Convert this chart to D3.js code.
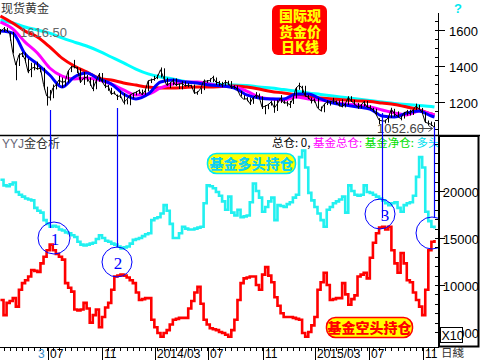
<!DOCTYPE html>
<html><head><meta charset="utf-8">
<script src="https://cdn.jsdelivr.net/npm/d3@7"></script>
<style>
html,body{margin:0;padding:0;background:#fff;}
svg{display:block;}
text{font-family:"Liberation Sans",Arial,"Noto Sans CJK SC",sans-serif;}
.cjk{font-family:"Noto Sans CJK SC",sans-serif;}
</style></head><body>
<svg id="c" width="480" height="360"></svg>
<script>
// ---------- DATA ----------
const startWeek = "2013-03-15";   // first weekly bar
const goldClose = [1592,1607,1598,1581,1476,1405,1462,1469,1435,1366,
1386,1393,1383,1388,1297,1234,1223,1277,1295,1322,
1310,1313,1372,1395,1396,1387,1308,1333,1338,1310,
1272,1315,1352,1314,1287,1288,1244,1251,1230,1235,
1197,1213,1237,1248,1254,1264,1240,1262,1318,1323,
1326,1339,1379,1334,1294,1303,1318,1293,1300,1302,
1290,1293,1292,1250,1252,1274,1316,1316,1320,1337,
1310,1307,1294,1310,1305,1280,1287,1268,1231,1216,
1218,1192,1222,1238,1231,1171,1177,1185,1201,1167,
1191,1222,1196,1195,1186,1216,1277,1293,1279,1234,
1227,1204,1213,1167,1152,1184,1199,1201,1207,1203,
1179,1175,1189,1225,1205,1190,1172,1179,1201,1173,
1168,1157,1132,1099,1095,1094,1113,1160,1134,1121,
1108,1138,1146,1137,1156,1177,1163,1142,1088,1081,
1076,1056];
const goldHigh = [1605,1616.5,1612,1586,1590,1425,1470,1477,1475,1440,
1418,1415,1424,1395,1390,1285,1267,1297,1299,1346,
1336,1323,1373,1400,1434,1395,1386,1367,1350,1335,
1323,1326,1361,1361,1322,1295,1279,1260,1242,1262,
1249,1215,1240,1250,1259,1270,1269,1268,1318,1330,
1345,1352,1392,1387,1335,1310,1330,1331,1302,1315,
1315,1305,1296,1297,1260,1277,1325,1322,1332,1346,
1336,1317,1312,1322,1318,1316,1293,1291,1262,1238,
1227,1225,1228,1255,1247,1231,1182,1190,1207,1208,
1210,1238,1209,1205,1206,1226,1283,1307,1290,1290,
1240,1225,1220,1221,1175,1191,1209,1207,1223,1209,
1208,1215,1193,1232,1232,1212,1195,1189,1206,1206,
1182,1168,1163,1110,1103,1102,1119,1168,1162,1148,
1123,1145,1156,1157,1157,1191,1184,1167,1142,1097,
1091,1088];
const goldLow = [1575,1590,1590,1540,1470,1321,1400,1450,1420,1360,
1338,1376,1380,1365,1270,1180,1208,1221,1270,1296,
1279,1290,1308,1366,1387,1361,1306,1295,1313,1290,
1260,1271,1313,1310,1277,1262,1240,1242,1211,1222,
1186,1187,1182,1220,1237,1245,1239,1240,1259,1305,
1318,1327,1336,1321,1290,1277,1293,1288,1272,1270,
1286,1282,1280,1245,1240,1245,1266,1306,1311,1310,
1294,1290,1282,1291,1293,1274,1274,1266,1230,1215,
1204,1183,1190,1220,1229,1161,1132,1160,1180,1140,
1150,1194,1190,1176,1167,1189,1220,1268,1250,1230,
1216,1192,1197,1163,1147,1143,1183,1180,1192,1187,
1176,1170,1170,1183,1200,1185,1162,1165,1175,1170,
1158,1146,1130,1077,1081,1081,1085,1112,1119,1116,
1098,1108,1124,1125,1128,1155,1160,1141,1085,1070,
1067,1052.6];
// moving averages at these week indexes
const maWeeks = [0,4,8,12,16,20,24,28,32,36,40,44,48,52,56,60,64,68,72,76,80,84,88,92,96,100,104,108,112,116,120,124,128,132,136,140,141];
const maBlue = [1594,1583,1467,1411,1350,1283,1339,1361,1328,1300,1244,1217,1244,1311,1322,1311,1306,1294,1289,1278,1239,1222,1217,1217,1244,1244,1217,1194,1183,1172,1161,1122,1117,1139,1150,1122,1117];
const maMagenta = [1644,1606,1533,1472,1389,1344,1328,1333,1322,1300,1267,1239,1244,1278,1300,1311,1311,1300,1289,1283,1261,1228,1217,1211,1228,1217,1211,1200,1189,1183,1172,1156,1139,1128,1150,1133,1128];
const maRed = [1678,1639,1594,1561,1506,1444,1400,1367,1333,1322,1306,1294,1283,1278,1278,1281,1283,1283,1286,1289,1283,1272,1258,1250,1239,1228,1222,1217,1211,1206,1203,1194,1186,1172,1156,1133,1128];
const maCyan = [1656,1639,1617,1600,1583,1556,1533,1511,1483,1450,1417,1383,1356,1339,1328,1314,1306,1300,1297,1294,1292,1283,1278,1269,1261,1250,1242,1233,1225,1217,1208,1200,1192,1186,1181,1175,1172];
// fund long / short positions (weekly)
const fundLong = [21200,20600,20500,20700,20900,19900,19600,19400,19200,19100,
19000,18200,17900,17700,16900,16500,16200,16300,16200,15900,
15800,15600,15500,15300,15100,14600,14300,14200,14300,14400,
14500,14900,15300,15000,14700,14600,14400,14300,14100,13900,
14000,14100,14400,14800,14900,15000,15200,15400,15500,16900,
17100,17200,17600,18500,17900,16500,15000,15000,15500,16200,
16000,15900,15900,16000,16100,16200,18700,20600,20500,20300,
19900,19500,18900,18000,19400,17700,17400,18000,17200,17300,
17400,18800,20800,20000,19300,17800,18300,18900,19300,16900,
18500,18400,18300,18600,18800,19300,19600,23600,24300,22500,
19800,19000,18300,17600,16900,16200,18000,18300,18700,18900,
19100,19400,17700,20600,20000,19600,19500,19600,20600,19900,
19800,19600,19400,19200,19000,18700,18500,18700,18800,18200,
17800,18500,18700,18800,19500,21500,23600,22500,17800,16800,
16200,16000];
const fundShort = [8400,6800,8100,8300,8600,7700,9500,10200,10500,10900,
11600,11500,11400,12300,13000,13700,14300,13700,13300,13000,
12700,10200,9700,9300,7400,7300,7400,8100,7500,6000,
6800,7400,5500,6600,7600,8100,9500,10900,11000,11100,
11000,10800,10500,10200,9200,8400,8500,8600,8600,6300,
5500,4900,4500,4900,5200,5800,6300,6400,6500,6500,
6500,7500,8300,9200,9800,8000,6300,5800,5400,5300,
5200,5000,4900,4700,4500,5200,6300,8400,10200,10700,
10800,10900,10900,10000,9500,11100,11900,11000,10300,8700,
7800,7000,6600,6600,6600,6500,6400,6300,4900,4500,
5000,5700,6600,9500,10300,11300,10000,8400,8500,8600,
8600,10200,9000,7900,8500,8900,10900,11100,11300,10700,
12900,14500,15500,16100,16200,15900,16200,13700,12300,11300,
13400,12300,10500,10300,9200,8400,7700,6800,9500,13700,
14600,14800];
const priceTicks = [1200,1400,1600];
const posTicks = [5000,10000,15000,20000];
const monthTicks = ["2013-07-01","2013-11-01","2014-03-01","2014-07-01","2014-11-01","2015-03-01","2015-07-01","2015-11-01"];
const monthLabels = ["07","11","2014/03","07","11","2015/03","07","11"];
// marked weeks (blue circles) and their numbers
const markWeeks = [16,38,124,141];
const markLabels = ["1","2","3",""];

// ---------- SCALES ----------
const parse = d3.timeParse("%Y-%m-%d");
const svg = d3.select("#c");
const t0 = parse(startWeek);
const weeks = d3.range(goldClose.length).map(i => d3.timeDay.offset(t0, 7*i));
const x = d3.scaleTime().domain([parse("2013-03-14"), parse("2015-12-05")]).range([0, 438]);
const yP = d3.scaleLinear().domain([1200,1600]).range([102,30]);
const yV = d3.scaleLinear().domain([15000,20000]).range([238,191]);

const defs = svg.append("defs");
defs.append("clipPath").attr("id","clipTop").append("rect").attr("x",0).attr("y",0).attr("width",437).attr("height",134);
defs.append("clipPath").attr("id","clipBot").append("rect").attr("x",0).attr("y",136).attr("width",437).attr("height",210);
defs.append("clipPath").attr("id","clipX10").append("rect").attr("x",463).attr("y",320).attr("width",17).attr("height",26);

// ---------- TOP PANEL ----------
const gTop = svg.append("g").attr("clip-path","url(#clipTop)");
const maLine = d3.line().curve(d3.curveMonotoneX)
  .x((d,k)=>x(weeks[maWeeks[k]])).y(d=>yP(d));
[[maCyan,"#00ffff"],[maRed,"#ff0000"],[maMagenta,"#ff00ff"],[maBlue,"#0000ff"]].forEach(([arr,c])=>{
  gTop.append("path").attr("d",maLine(arr)).attr("fill","none").attr("stroke",c).attr("stroke-width",3);
});
gTop.selectAll("line.bar").data(weeks).join("line").attr("class","bar")
  .attr("x1",d=>Math.round(x(d))+0.5).attr("x2",d=>Math.round(x(d))+0.5)
  .attr("y1",(d,i)=>yP(goldHigh[i])).attr("y2",(d,i)=>yP(goldLow[i]))
  .attr("stroke","#000").attr("stroke-width",1);
gTop.append("path").attr("d",d3.line().x((d,i)=>x(weeks[i])).y(d=>yP(d))(goldClose))
  .attr("fill","none").attr("stroke","#000").attr("stroke-width",1);

// top-left title
svg.append("text").attr("class","cjk").attr("x",1).attr("y",13).attr("font-size",12).attr("fill","#333").text("现货黄金");
// max label
svg.append("text").attr("x",20).attr("y",37).attr("font-size",13).attr("fill","#666").text(d3.format(".2f")(d3.max(goldHigh)));
// min label with arrow
const iMin = d3.minIndex(goldLow);
svg.append("text").attr("x",377).attr("y",133).attr("font-size",13).attr("fill","#444").text(d3.format(".2f")(goldLow[iMin]));
const ax = x(weeks[iMin]);
svg.append("path").attr("d",`M419,128.5H${ax-2}M${ax-6},125.5L${ax-2},128.5L${ax-6},131.5`).attr("fill","none").attr("stroke","#444").attr("stroke-width",1);

// red box (one text block, three lines)
svg.append("rect").attr("x",272).attr("y",5).attr("width",55).attr("height",50).attr("rx",6).attr("fill","#ff0000");
const boxT = svg.append("text").attr("class","cjk").attr("text-anchor","middle")
  .attr("font-size",14).attr("font-weight",900).attr("fill","#ffff00");
["国际现","货金价","日K线"].forEach((t,k)=>{
  boxT.append("tspan").attr("x",300).attr("y",21+k*15.5).text(t);
});
svg.append("text").attr("x",454).attr("y",13).attr("font-size",13).attr("font-weight","bold").attr("fill","#00e8f0").text("?");

// top axis
svg.append("line").attr("x1",438.5).attr("x2",438.5).attr("y1",13).attr("y2",135).attr("stroke","#000");
d3.range(1050,1800,50).filter(v=>yP(v)>14&&yP(v)<134).forEach(v=>{
  const yy=Math.round(yP(v))+0.5;
  svg.append("line").attr("x1",435).attr("x2",438).attr("y1",yy).attr("y2",yy).attr("stroke","#000");
});
priceTicks.forEach(v=>{
  const yy=Math.round(yP(v))+0.5;
  svg.append("line").attr("x1",438).attr("x2",445).attr("y1",yy).attr("y2",yy).attr("stroke","#000");
  svg.append("text").attr("x",478).attr("y",yy+5).attr("text-anchor","end").attr("font-size",13).attr("fill","#000").text(v);
});

// divider
svg.append("line").attr("x1",0).attr("x2",480).attr("y1",135.5).attr("y2",135.5).attr("stroke","#000").attr("stroke-width",1.5);

// ---------- BOTTOM PANEL ----------
const gBot = svg.append("g").attr("clip-path","url(#clipBot)");
const stepLine = d3.line().curve(d3.curveStepAfter).x((d,i)=>x(weeks[i])).y(d=>yV(d));
gBot.append("path").attr("d",stepLine(fundLong)).attr("fill","none").attr("stroke","#22f0f0").attr("stroke-width",2.6);
gBot.append("path").attr("d",stepLine(fundShort)).attr("fill","none").attr("stroke","#ff0000").attr("stroke-width",2.6);

// header texts
svg.append("text").attr("x",2).attr("y",148).attr("font-size",12).attr("fill","#333")
  .call(t=>{t.append("tspan").attr("fill","#667").text("YYJ");t.append("tspan").attr("class","cjk").text("金仓析");});
const hdr = svg.append("text").attr("class","cjk").attr("x",272).attr("y",147).attr("font-size",11.5);
hdr.append("tspan").attr("fill","#000").text("总仓: 0, ");
hdr.append("tspan").attr("fill","#ff00ff").text("基金总仓: ");
hdr.append("tspan").attr("fill","#00e000").text("基金净仓: ");
hdr.append("tspan").attr("fill","#00e0f0").text("多头");

// blue marker lines and circles
const markY = [[110,228],[108,247],[113,218],[127,218]];
const circ = [[54,238,16],[117,262,15],[380,214,15],[432,233,16]];
markWeeks.forEach((w,k)=>{
  const xx = Math.round(x(weeks[w]))+0.5;
  svg.append("line").attr("x1",xx).attr("x2",xx).attr("y1",markY[k][0]).attr("y2",markY[k][1]).attr("stroke","#0000ff").attr("stroke-width",1.2);
  svg.append("circle").attr("cx",circ[k][0]).attr("cy",circ[k][1]).attr("r",circ[k][2]).attr("fill","none").attr("stroke","#0000ff").attr("stroke-width",1);
  if(markLabels[k]) svg.append("text").attr("x",circ[k][0]+(k==2?5:1)).attr("y",circ[k][1]+7).attr("text-anchor","middle")
    .style("font-family","'Liberation Serif',serif")
    .attr("font-size",17).attr("fill","#0000ff").text(markLabels[k]);
});

// legend pills
svg.append("rect").attr("x",207.5).attr("y",153.5).attr("width",88).attr("height",20).attr("rx",9).attr("fill","#ffff00").attr("stroke","#00e8f0").attr("stroke-width",1.5);
svg.append("text").attr("class","cjk").attr("x",251.5).attr("y",168.5).attr("text-anchor","middle").attr("font-size",14).attr("font-weight",900).attr("fill","#10d0f0").text("基金多头持仓");
svg.append("rect").attr("x",326.5).attr("y",317.5).attr("width",86).attr("height",20).attr("rx",9).attr("fill","#ffff00").attr("stroke","#ff0000").attr("stroke-width",1.5);
svg.append("text").attr("class","cjk").attr("x",369.5).attr("y",332.5).attr("text-anchor","middle").attr("font-size",14).attr("font-weight",900).attr("fill","#ff0000").text("基金空头持仓");

// right box for lower axis
svg.append("rect").attr("x",438).attr("y",136).attr("width",41).attr("height",211).attr("fill","#fff").attr("stroke","none");
svg.append("rect").attr("x",439).attr("y",136).attr("width",39.5).attr("height",210.5).attr("fill","none").attr("stroke","#000").attr("stroke-width",2);
d3.range(5000,26000,1000).filter(v=>yV(v)>138&&yV(v)<345).forEach(v=>{
  const yy=Math.round(yV(v))+0.5;
  svg.append("line").attr("x1",435).attr("x2",438).attr("y1",yy).attr("y2",yy).attr("stroke","#000");
});
posTicks.forEach(v=>{
  const yy=Math.round(yV(v))+0.5;
  svg.append("line").attr("x1",438).attr("x2",445).attr("y1",yy).attr("y2",yy).attr("stroke","#000");
  const t = svg.append("text").attr("x",479).attr("y",yy+5).attr("text-anchor","end").attr("font-size",13).attr("fill","#000").text(v);
  if (v===5000) t.attr("clip-path","url(#clipX10)");
});
svg.append("rect").attr("x",440.5).attr("y",327.5).attr("width",22).attr("height",15).attr("fill","#fff").attr("stroke","#000");
svg.append("text").attr("x",441.5).attr("y",340).attr("font-size",12.5).attr("fill","#000").text("X10");

// ---------- X AXIS ----------
svg.append("line").attr("x1",0).attr("x2",439).attr("y1",347.5).attr("y2",347.5).attr("stroke","#000");
weeks.filter((d,i)=>i%2===1).forEach(d=>{
  const xx=Math.round(x(d))+0.5;
  svg.append("line").attr("x1",xx).attr("x2",xx).attr("y1",347).attr("y2",351).attr("stroke","#000");
});
monthTicks.forEach((m,k)=>{
  const xx=Math.round(x(parse(m)))+0.5;
  svg.append("line").attr("x1",xx).attr("x2",xx).attr("y1",347).attr("y2",360).attr("stroke","#000");
  svg.append("text").attr("x",xx+1.5).attr("y",358).attr("font-size",12).attr("fill","#000").text(monthLabels[k]);
});
svg.append("text").attr("x",38).attr("y",358).attr("font-size",12).attr("fill","#3a8cc8").text("3");
svg.append("text").attr("class","cjk").attr("x",441).attr("y",357).attr("font-size",11.5).attr("fill","#333").text("日綫");
</script>
</body></html>
